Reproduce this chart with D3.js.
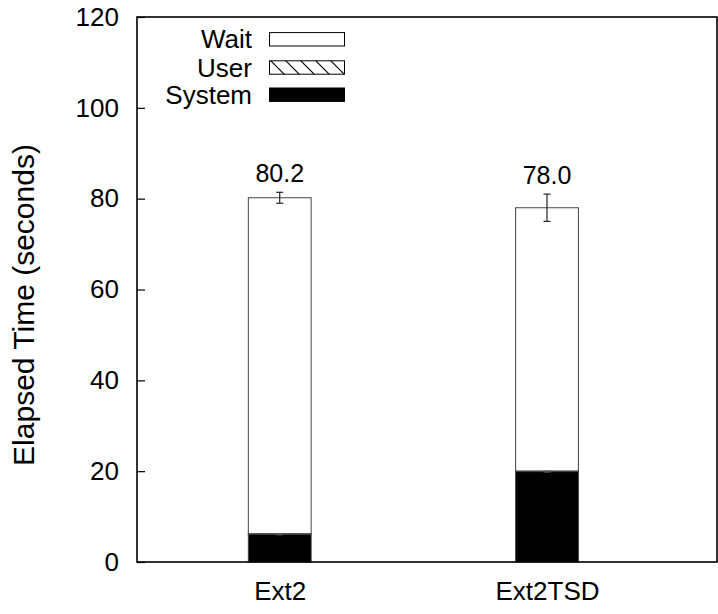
<!DOCTYPE html>
<html>
<head>
<meta charset="utf-8">
<script src="https://cdn.jsdelivr.net/npm/d3@7"></script>
<style>
  html, body { margin: 0; padding: 0; background: #fff; }
  svg { display: block; }
  text { font-family: "Liberation Sans", Arial, Helvetica, sans-serif; fill: #000; }
</style>
</head>
<body>
<script>
// ---- data ----
const categories = ["Ext2", "Ext2TSD"];
const systemTime = [6.1, 19.9];
const userTime = [0.1, 0.1];
const waitTime = [74.0, 58.0];
const totalLabels = ["80.2", "78.0"];
const totalErr = [1.2, 3.0];
const systemErr = [0.1, 0.1];
const yTicks = [0, 20, 40, 60, 80, 100, 120];
const legendItems = ["Wait", "User", "System"];

// ---- layout ----
const W = 718, H = 614;
const mLeft = 137, mRight = 717, mTop = 17, mBottom = 562;
const fontSize = 26;

const svg = d3.select("body").append("svg").attr("width", W).attr("height", H);

const defs = svg.append("defs");
const pat = defs.append("pattern")
  .attr("id", "hatch").attr("patternUnits", "userSpaceOnUse")
  .attr("width", 15).attr("height", 15);
pat.append("path").attr("d", "M-15,0 L0,15 M0,0 L15,15 M15,0 L30,15")
  .attr("stroke", "#000").attr("stroke-width", 1.2).attr("fill", "none");

const x = d3.scaleLinear().domain([-0.534, 1.636]).range([mLeft, mRight]);
const y = d3.scaleLinear().domain([0, 120]).range([mBottom, mTop]);
const barW = 0.235;

// bars
const stacks = categories.map((c, i) => {
  const s0 = 0, s1 = systemTime[i];
  const u1 = s1 + userTime[i];
  const w1 = u1 + waitTime[i];
  return { i, segs: [
    { y0: u1, y1: w1, fill: "#fff" },
    { y0: s1, y1: u1, fill: "url(#hatch)" },
    { y0: s0, y1: s1, fill: "#000" }
  ], total: w1 };
});

const g = svg.append("g");
stacks.forEach(st => {
  st.segs.forEach(s => {
    g.append("rect")
      .attr("x", x(st.i - barW / 2))
      .attr("width", x(st.i + barW / 2) - x(st.i - barW / 2))
      .attr("y", y(s.y1))
      .attr("height", y(s.y0) - y(s.y1))
      .attr("fill", s.fill)
      .attr("stroke", "#444")
      .attr("stroke-width", 1);
  });
});

// error bars
function errBar(cx, v, e, color) {
  const cap = 3.5;
  g.append("line").attr("x1", cx).attr("x2", cx).attr("y1", y(v - e)).attr("y2", y(v + e))
    .attr("stroke", color).attr("stroke-width", 1.2);
  [v - e, v + e].forEach(yy => {
    g.append("line").attr("x1", cx - cap).attr("x2", cx + cap).attr("y1", y(yy)).attr("y2", y(yy))
      .attr("stroke", color).attr("stroke-width", 1.2);
  });
}
stacks.forEach(st => {
  errBar(x(st.i), st.total, totalErr[st.i], "#222");
  errBar(x(st.i), systemTime[st.i], systemErr[st.i], "#555");
});

// value labels
stacks.forEach(st => {
  svg.append("text")
    .attr("x", x(st.i))
    .attr("y", y(st.total + totalErr[st.i]) - 10)
    .attr("text-anchor", "middle")
    .attr("font-size", 25)
    .text(totalLabels[st.i]);
});

// frame
svg.append("rect").attr("x", mLeft).attr("y", mTop)
  .attr("width", mRight - mLeft).attr("height", mBottom - mTop)
  .attr("fill", "none").attr("stroke", "#000").attr("stroke-width", 1.6);

// y axis (ticks inward)
const yAxis = d3.axisLeft(y).tickValues(yTicks).tickSize(-8).tickPadding(18).tickFormat(d3.format("d"));
const ya = svg.append("g").attr("transform", `translate(${mLeft},0)`).call(yAxis);
ya.select(".domain").remove();
ya.selectAll(".tick line").attr("stroke", "#000").attr("stroke-width", 1.2);
ya.selectAll(".tick text").attr("font-size", fontSize)
  .attr("font-family", '"Liberation Sans", Arial, sans-serif').attr("fill", "#000");

// x axis labels
const xAxis = d3.axisBottom(x).tickValues(categories.map((c, i) => i)).tickSize(0)
  .tickPadding(20).tickFormat(i => categories[i]);
const xa = svg.append("g").attr("transform", `translate(0,${mBottom})`).call(xAxis);
xa.select(".domain").remove();
xa.selectAll(".tick text").attr("font-size", fontSize)
  .attr("font-family", '"Liberation Sans", Arial, sans-serif').attr("fill", "#000");

// y label
svg.append("text")
  .attr("transform", `translate(34,305) rotate(-90)`)
  .attr("text-anchor", "middle")
  .attr("font-size", 30)
  .text("Elapsed Time (seconds)");

// legend
const legFills = ["#fff", "url(#hatch)", "#000"];
const legCenters = [39.3, 67.5, 94.7];
legendItems.forEach((name, k) => {
  svg.append("text").attr("x", 252).attr("y", legCenters[k] + 9)
    .attr("text-anchor", "end").attr("font-size", fontSize).text(name);
  svg.append("rect").attr("x", 269.5).attr("y", legCenters[k] - 6.7)
    .attr("width", 75).attr("height", 13.4)
    .attr("fill", legFills[k]).attr("stroke", "#000").attr("stroke-width", 1);
});
</script>
</body>
</html>
